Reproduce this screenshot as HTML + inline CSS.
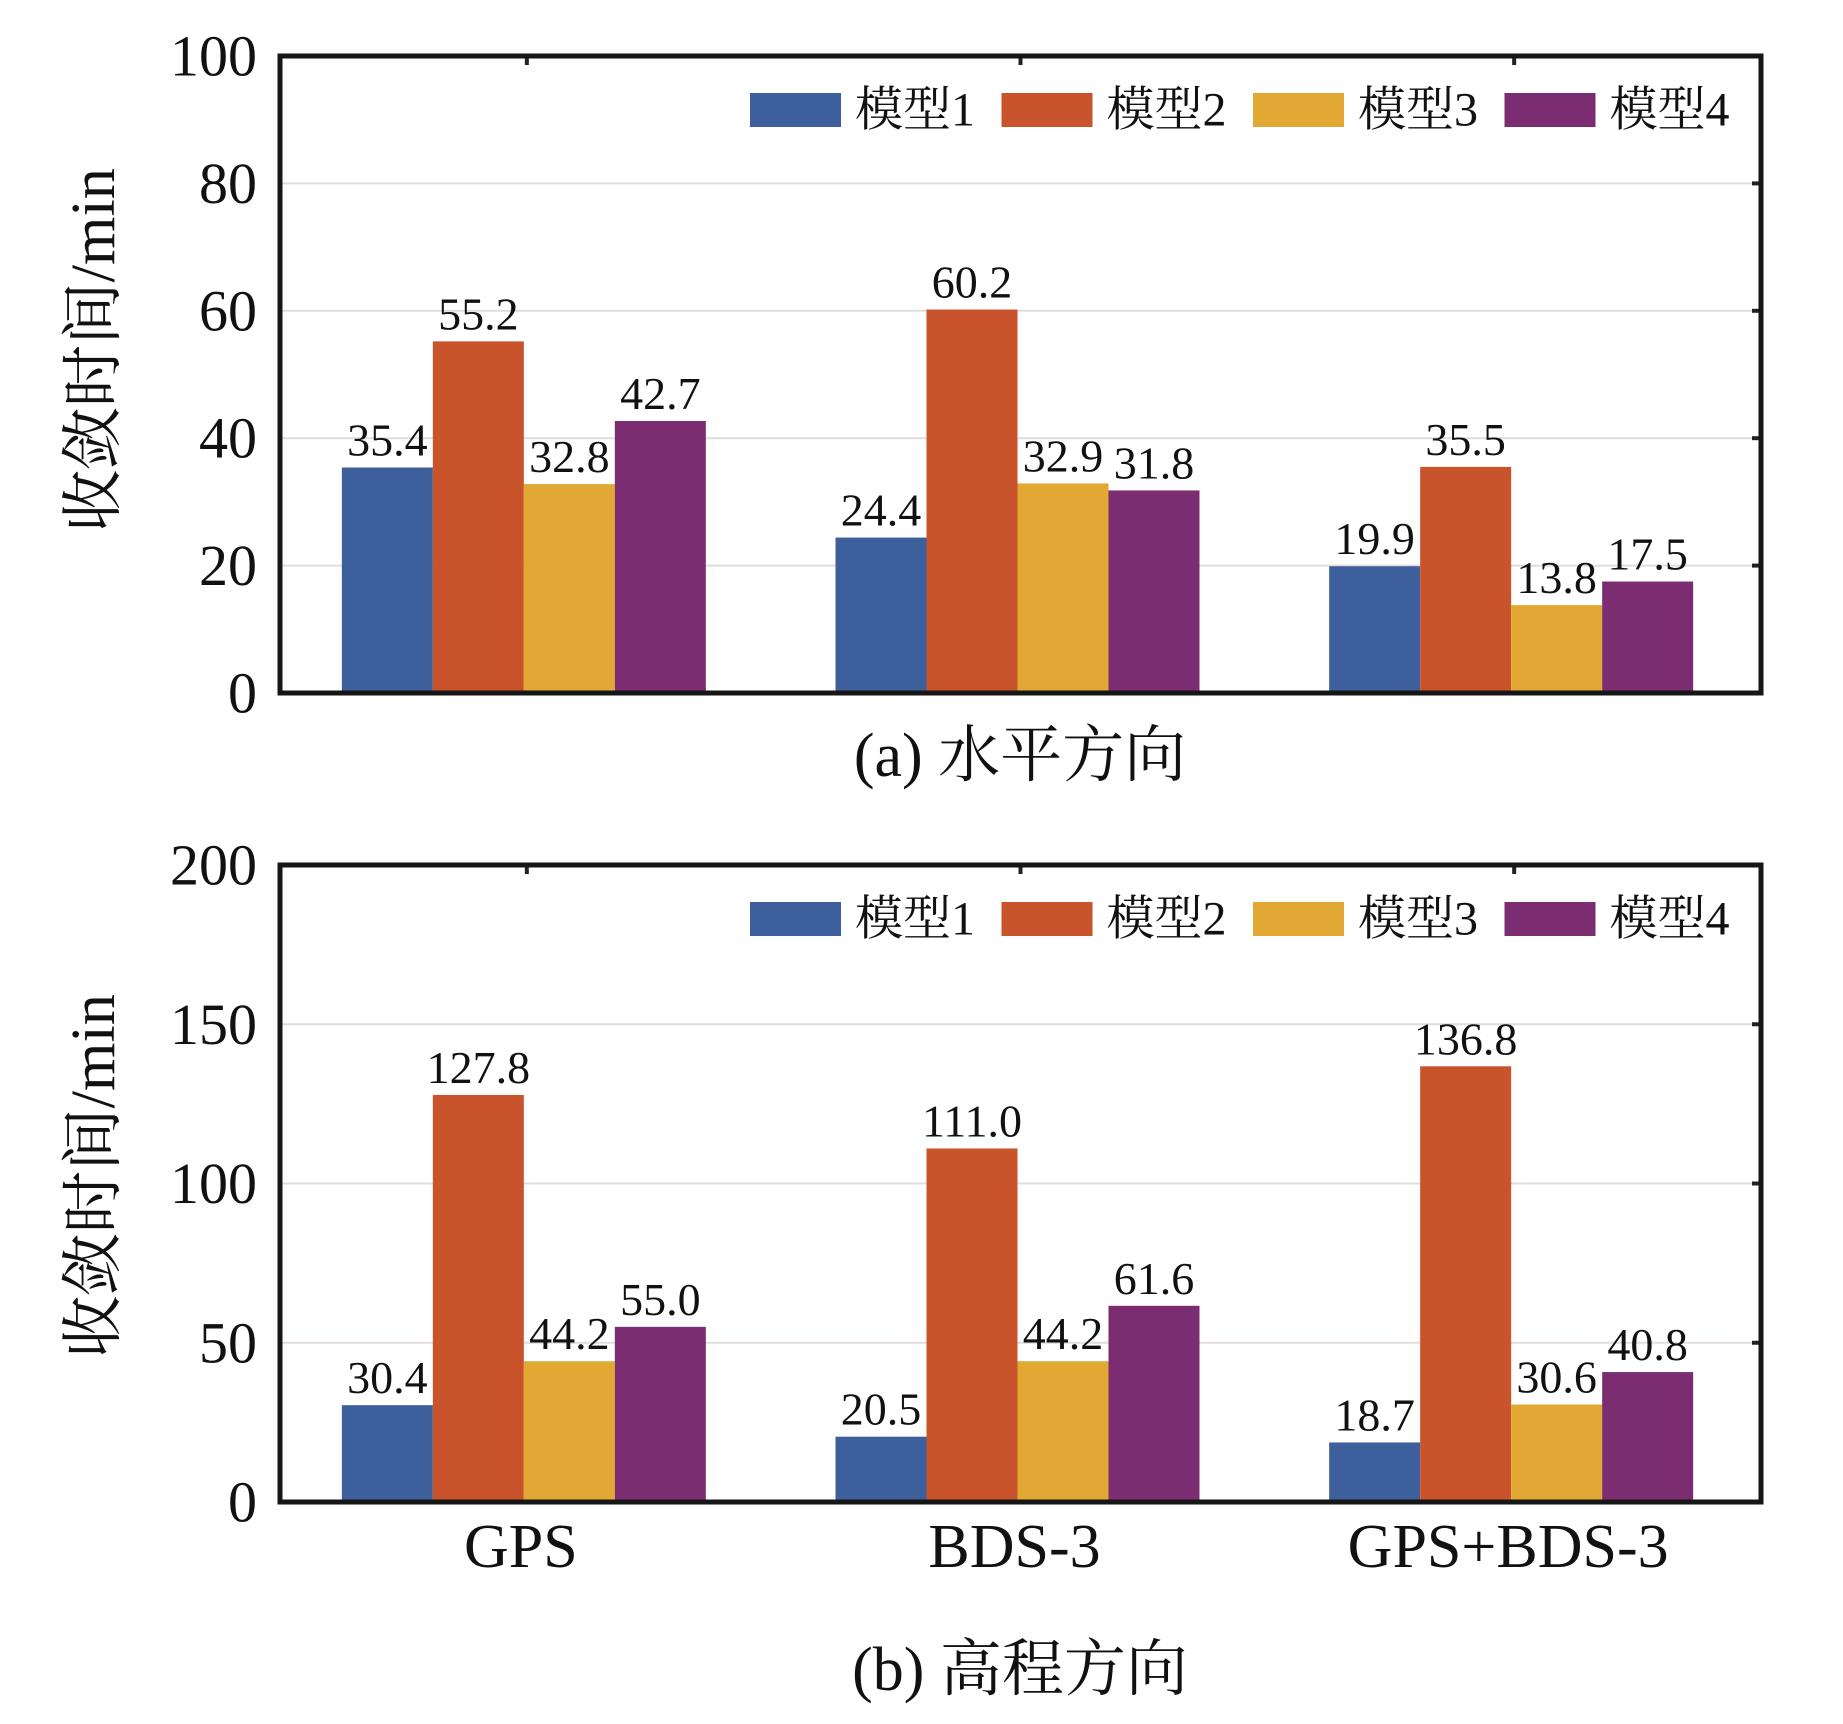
<!DOCTYPE html>
<html><head><meta charset="utf-8"><style>
html,body{margin:0;padding:0;background:#fff;}
svg{display:block;}
text{font-family:"Liberation Serif","Times New Roman","Noto Serif CJK SC",serif;}
</style></head><body>
<svg id="chart" width="1843" height="1724" viewBox="0 0 1843 1724" xmlns="http://www.w3.org/2000/svg"></svg>
<script>
const categories = ["GPS", "BDS-3", "GPS+BDS-3"];
const seriesNames = ["模型1", "模型2", "模型3", "模型4"];
const horizModel1 = [35.4, 24.4, 19.9];
const horizModel2 = [55.2, 60.2, 35.5];
const horizModel3 = [32.8, 32.9, 13.8];
const horizModel4 = [42.7, 31.8, 17.5];
const vertModel1 = [30.4, 20.5, 18.7];
const vertModel2 = [127.8, 111.0, 136.8];
const vertModel3 = [44.2, 44.2, 30.6];
const vertModel4 = [55.0, 61.6, 40.8];
const horizTicks = [0, 20, 40, 60, 80, 100];
const vertTicks = [0, 50, 100, 150, 200];

const colors = ["#3d5f9b", "#c9532b", "#e2a834", "#7c2d72"];
const NS = "http://www.w3.org/2000/svg";
const svg = document.getElementById("chart");
function mk(tag, attrs, parent) {
  const e = document.createElementNS(NS, tag);
  for (const k in attrs) e.setAttribute(k, attrs[k]);
  (parent || svg).appendChild(e);
  return e;
}

function drawPanel(cfg) {
  const L = 280, R = 1761, T = cfg.top, B = cfg.bottom;
  const g = mk("g", {});
  
  
  const yMax = cfg.ticks[cfg.ticks.length - 1];
  const y = v => B - (v / yMax) * (B - T);
  const gw = (R - L) / categories.length;
  const xc = i => L + gw * (i + 0.5);
  const bw = 91;

  cfg.ticks.forEach(t => {
    if (t > 0 && t < yMax) {
      const gl = mk("line", {x1: L, x2: R, y1: y(t), y2: y(t), stroke: "#e3dcdc", "stroke-width": 2}, g);
      
      
    }
    const tk = mk("line", {x1: R - 9, x2: R, y1: y(t), y2: y(t), stroke: "#222", "stroke-width": 4}, g);
    
    
    const lb = mk("text", {x: 257, y: y(t), "font-size": 58, "text-anchor": "end", "dominant-baseline": "central", fill: "#111"}, g);
    lb.textContent = t;
    
    
  });

  cfg.series.forEach((vals, s) => {
    vals.forEach((v, i) => {
      const x0 = xc(i) - 2 * bw + s * bw - 3;
      const r = mk("rect", {x: x0, y: y(v), width: bw, height: B - y(v), fill: colors[s]}, g);
      
      
      const t = mk("text", {x: x0 + bw / 2, y: y(v) - 12, "font-size": 46, "text-anchor": "middle", fill: "#111"}, g);
      t.textContent = v.toFixed(1);
      
      
    });
  });

  categories.forEach((c, i) => {
    const tk = mk("line", {x1: xc(i), x2: xc(i), y1: T, y2: T + 9, stroke: "#222", "stroke-width": 4}, g);
    
    
  });

  const fr = mk("rect", {x: L, y: T, width: R - L, height: B - T, fill: "none", stroke: "#161616", "stroke-width": 5}, g);
  
  

  const lg = mk("g", {}, g);
  
  
  seriesNames.forEach((n, s) => {
    const lx = 750 + s * 251.5;
    const sw = mk("rect", {x: lx, y: cfg.legendY, width: 91, height: 34, fill: colors[s]}, lg);
    
    
    const lt = mk("text", {x: lx + 105, y: cfg.legendY + 17, "font-size": 48, "dominant-baseline": "central", fill: "#111"}, lg);
    lt.textContent = n;
    
    
  });

  const yt = mk("text", {x: 0, y: 0, "font-size": 62, "text-anchor": "middle", "dominant-baseline": "central", fill: "#111",
    transform: "translate(94," + cfg.titleY + ") rotate(-90)", textLength: 364, lengthAdjust: "spacingAndGlyphs"}, g);
  yt.textContent = "收敛时间/min";
  
  

  if (cfg.xLabels) {
    categories.forEach((c, i) => {
      const xl = mk("text", {x: xc(i) - 6, y: 1547, "font-size": 62, "text-anchor": "middle", "dominant-baseline": "central", fill: "#111"}, g);
      xl.textContent = c;
      
      
    });
  }

  const cap = mk("text", {x: 1020, y: cfg.captionY, "font-size": 62, "text-anchor": "middle", "dominant-baseline": "central", fill: "#111"}, g);
  cap.textContent = cfg.caption;
  
  
}

drawPanel({name: "panel-horizontal", top: 56, bottom: 693, ticks: horizTicks,
  series: [horizModel1, horizModel2, horizModel3, horizModel4], legendY: 93, titleY: 350,
  xLabels: false, caption: "(a) 水平方向", captionY: 756});
drawPanel({name: "panel-vertical", top: 865, bottom: 1502, ticks: vertTicks,
  series: [vertModel1, vertModel2, vertModel3, vertModel4], legendY: 902, titleY: 1176,
  xLabels: true, caption: "(b) 高程方向", captionY: 1670});
</script>
</body></html>
